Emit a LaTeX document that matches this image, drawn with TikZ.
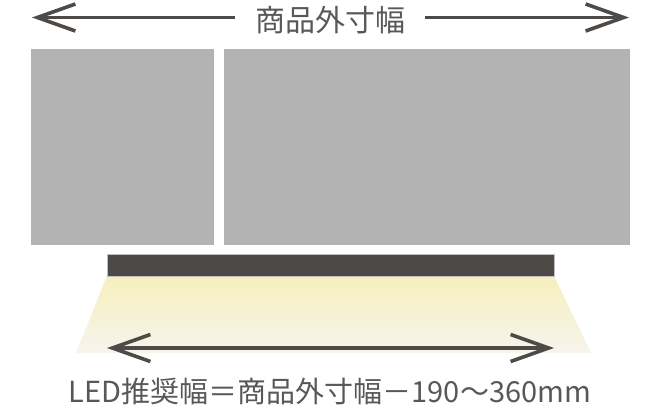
\documentclass[tikz,border=0pt]{standalone}
\usepackage{fontspec}
\newfontfamily\jpfont{Noto Sans CJK JP}
\usetikzlibrary{arrows.meta}
\definecolor{boxgray}{HTML}{B3B3B3}
\definecolor{bargray}{HTML}{4D4947}
\definecolor{inkgray}{HTML}{4D4A48}
\definecolor{textgray}{HTML}{595757}
\definecolor{glowtop}{HTML}{F7EFBD}
\definecolor{glowmid}{HTML}{F6F2DC}
\definecolor{glowbot}{HTML}{F6F4EC}
\tikzset{
  barb/.tip={Straight Barb[length=38pt,width=27pt]},
  dimline/.style={draw=inkgray, line width=3.6pt},
  dimtext/.style={text=textgray, anchor=base, font=\jpfont\fontsize{29}{34}\selectfont}
}
\begin{document}
\begin{tikzpicture}[x=1pt,y=-1pt]
  \useasboundingbox (0,0) rectangle (660,410);
  % cabinet fronts
  \fill[boxgray] (31,49) rectangle (214,245);
  \fill[boxgray] (224,49) rectangle (630,245);
  % light below the bar
  \shade[top color=glowtop, middle color=glowmid, bottom color=glowbot]
    (107,276) -- (554,276) -- (591,353) -- (76,353) -- cycle;
  % LED bar
  \draw[draw=bargray!35, fill=bargray, line width=0.8pt] (107,254) rectangle (554,276);
  % product width
  \node[dimtext, font=\jpfont\fontsize{30}{36}\selectfont, inner xsep=20pt] (wlabel) at (330,31) {商品外寸幅};
  \coordinate (wL) at (32,17.5);
  \coordinate (wR) at (629,17.5);
  \draw[dimline, -barb] (wlabel.west |- wL) -- (wL);
  \draw[dimline, -barb] (wlabel.east |- wR) -- (wR);
  % LED width
  \coordinate (ledL) at (107,348);
  \coordinate (ledR) at (554,348);
  \draw[dimline, barb-barb] (ledL) -- (ledR);
  \node[dimtext] (ledlabel) at (330,402.5) {LED推奨幅＝商品外寸幅－190～360mm};
\end{tikzpicture}
\end{document}
